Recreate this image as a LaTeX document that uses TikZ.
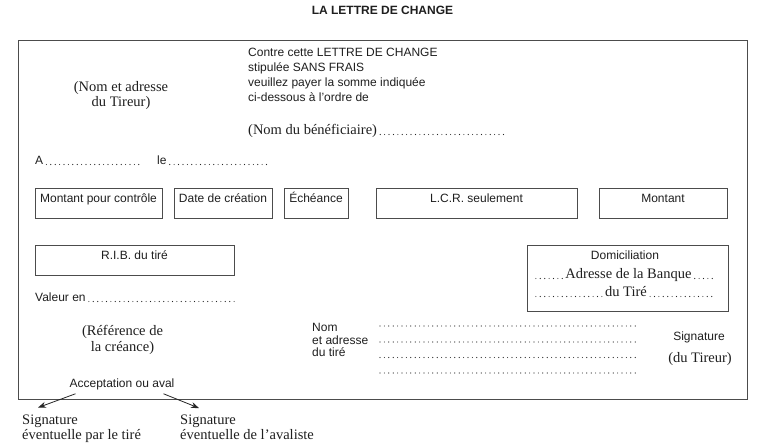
\documentclass[tikz,border=0pt]{standalone}
\usepackage{fontspec}
\setmainfont{Liberation Sans}
\newfontfamily\serifft{Liberation Serif}
\usetikzlibrary{arrows.meta}
\begin{document}
\begin{tikzpicture}[x=1pt,y=-1pt,
  every node/.style={inner sep=0pt, text=black!88},
  sans/.style={font=\fontsize{12}{15}\selectfont},
  sanstight/.style={font=\fontsize{12}{12.5}\selectfont},
  ser/.style={font=\serifft\fontsize{14.5}{15.5}\selectfont},
  frame/.style={draw=black!70, line width=0.9pt},
  fbox/.style={draw=black!70, line width=0.9pt, minimum height=30pt, text height=9pt, text depth=9pt, font=\fontsize{12}{14}\selectfont},
  leader/.style={draw=black!85, line width=1.15pt, line cap=round, dash pattern=on 0pt off 4.4pt},
  arr/.style={draw=black!85, line width=0.8pt, -{Stealth[length=8pt,width=6pt]}}
]
\useasboundingbox (0,0) rectangle (761,446);
\fill[white] (0,0) rectangle (761,446);

\node[font=\bfseries\fontsize{12}{14}\selectfont] (title) at (382.5,10) {LA LETTRE DE CHANGE};
\draw[frame] (18,40) rectangle (747,399);

\node[sans, align=left, anchor=north west] (contre) at (248,47.5) {Contre cette LETTRE DE CHANGE\\stipulée SANS FRAIS\\veuillez payer la somme indiquée\\ci-dessous à l'ordre de};

\node[ser, align=center] (tireur) at (121,95.5) {(Nom et adresse\\du Tireur)};

\node[ser, anchor=base west] (benef) at (248,134.5) {(Nom du bénéficiaire)};
\draw[leader] ([xshift=3pt]benef.base east) -- ++(126,0);

\node[sans, anchor=base west] (lieu) at (35,164.5) {A};
\draw[leader] ([xshift=3pt]lieu.base east) -- ++(96,0);
\node[sans, anchor=base west] (date) at (157,164.5) {le};
\draw[leader] ([xshift=3pt]date.base east) -- ++(97,0);

\node[fbox, minimum width=127pt] (controle) at (98.5,203) {Montant pour contrôle};
\node[fbox, minimum width=98pt] (creation) at (223,203) {Date de création};
\node[fbox, minimum width=64pt] (echeance) at (316,203) {Échéance};
\node[fbox, minimum width=201pt] (lcr) at (476.5,203) {L.C.R. seulement};
\node[fbox, minimum width=128pt] (montant) at (663,203) {Montant};

\node[fbox, minimum width=199pt] (rib) at (134.5,260) {R.I.B. du tiré};

\node[frame, minimum width=201pt, minimum height=66pt] (dom) at (627.5,278) {};
\node[sans] (domt) at (625,255) {Domiciliation};
\node[ser, anchor=base] (banque) at (628.5,278.5) {Adresse de la Banque};
\draw[leader] ([xshift=-3pt]banque.base west) -- ([xshift=8pt]dom.west |- banque.base);
\draw[leader] ([xshift=3pt]banque.base east) -- ([xshift=-13pt]dom.east |- banque.base);
\node[ser, anchor=base] (tire) at (626,296.5) {du Tiré};
\draw[leader] ([xshift=-3pt]tire.base west) -- ([xshift=8pt]dom.west |- tire.base);
\draw[leader] ([xshift=3pt]tire.base east) -- ([xshift=-13pt]dom.east |- tire.base);

\node[sans, anchor=base west] (valeur) at (35,301.5) {Valeur en};
\draw[leader] ([xshift=3pt]valeur.base east) -- ++(149,0);

\node[ser, align=center] (reference) at (122.5,340) {(Référence de\\la créance)};

\node[sanstight, align=left, anchor=north west] (nomtire) at (312,323.5) {Nom\\et adresse\\du tiré};
\foreach \yy in {326,342,357.5,373} {
  \draw[leader] (380,\yy) -- (638,\yy);
}

\node[sans] (signature) at (699,337) {Signature};
\node[ser] (dutireur) at (700,359) {(du Tireur)};

\node[sans] (acc) at (122,384) {Acceptation ou aval};

\node[ser, align=left, anchor=north west] (sigtire) at (22,414.6) {Signature\\éventuelle par le tiré};
\node[ser, align=left, anchor=north west] (sigaval) at (180,414.6) {Signature\\éventuelle de l’avaliste};

\draw[arr] ([xshift=6pt,yshift=-4pt]acc.south west) -- ([xshift=16pt,yshift=7pt]sigtire.north west);
\draw[arr] ([xshift=-11pt,yshift=-4pt]acc.south east) -- ([xshift=19pt,yshift=6.5pt]sigaval.north west);
\end{tikzpicture}
\end{document}
